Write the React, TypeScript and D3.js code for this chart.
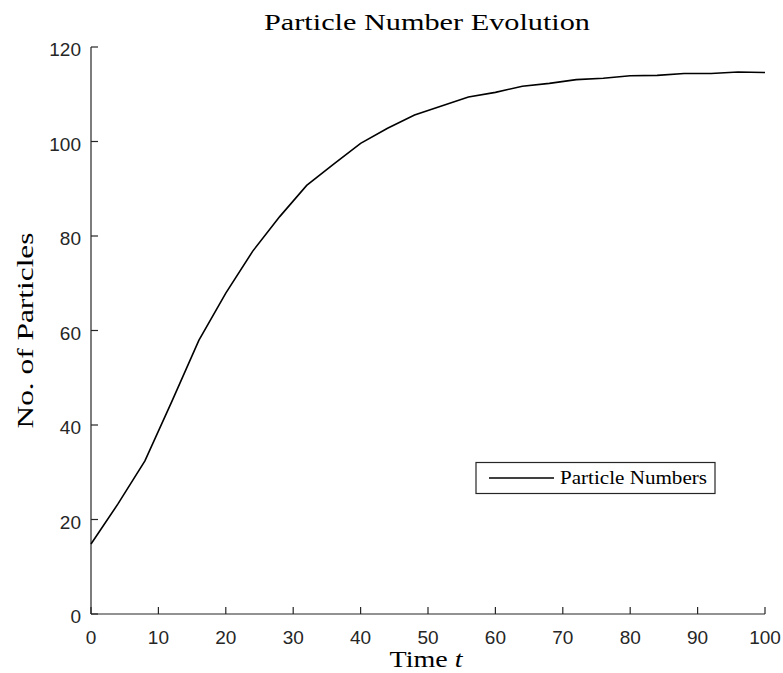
import React from "react";
import * as d3 from "d3";

const times = [0, 4, 8, 12, 16, 20, 24, 28, 32, 36, 40, 44, 48, 52, 56, 60, 64, 68, 72, 76, 80, 84, 88, 92, 96, 100];
const particles = [14.8, 23.3, 32.4, 45.0, 57.9, 67.9, 76.8, 84.1, 90.7, 95.2, 99.6, 102.8, 105.6, 107.5, 109.4, 110.4, 111.7, 112.3, 113.1, 113.4, 113.9, 114.0, 114.4, 114.4, 114.7, 114.6];
const xTicks = [0, 10, 20, 30, 40, 50, 60, 70, 80, 90, 100];
const yTicks = [0, 20, 40, 60, 80, 100, 120];
const titleText = "Particle Number Evolution";
const xLabel = "Time ";
const yLabel = "No. of Particles";
const legendLabel = "Particle Numbers";

const W = 783, H = 673;
const serif = "'Liberation Serif', 'DejaVu Serif', serif";
const sans = "'Liberation Sans', Arial, sans-serif";

export default function App() {
  const x = d3.scaleLinear().domain([0, 100]).range([91, 765]);
  const y = d3.scaleLinear().domain([0, 120]).range([614, 47]);
  const line = d3.line<number>().x((_, i) => x(times[i])).y((d) => y(d));
  const axisColor = "#262626";
  return (
    <svg width={W} height={H} style={{ position: "absolute", left: 0, top: 0, background: "#fff" }}>
      <rect width={W} height={H} fill="#fff" />
      <text x={427} y={30} textAnchor="middle" fontFamily={serif} fontSize={24} fill="#000"
        textLength={326} lengthAdjust="spacingAndGlyphs">{titleText}</text>
      {/* axes */}
      <line x1={x(0)} x2={x(100)} y1={y(0)} y2={y(0)} stroke={axisColor} strokeWidth={1.2} />
      <line x1={x(0)} x2={x(0)} y1={y(0)} y2={y(120)} stroke={axisColor} strokeWidth={1.2} />
      {xTicks.map((t) => (
        <g key={"x" + t}>
          <line x1={x(t)} x2={x(t)} y1={y(0)} y2={y(0) - 7} stroke={axisColor} strokeWidth={1.2} />
          <text x={x(t)} y={y(0) + 30} textAnchor="middle" fontFamily={sans} fontSize={19} fill={axisColor}>{t}</text>
        </g>
      ))}
      {yTicks.map((t) => (
        <g key={"y" + t}>
          <line x1={x(0)} x2={x(0) + 7} y1={y(t)} y2={y(t)} stroke={axisColor} strokeWidth={1.2} />
          <text x={x(0) - 10} y={y(t) + 9} textAnchor="end" fontFamily={sans} fontSize={19} fill={axisColor}>{t}</text>
        </g>
      ))}
      <path d={line(particles) || ""} fill="none" stroke="#000" strokeWidth={1.6} />
      <text x={426} y={667} textAnchor="middle" fontFamily={serif} fontSize={23} fill="#000"
        textLength={73} lengthAdjust="spacingAndGlyphs">
        {xLabel}<tspan fontStyle="italic">t</tspan>
      </text>
      <text transform={`translate(33,${(y(0) + y(120)) / 2}) rotate(-90)`} textAnchor="middle" fontFamily={serif} fontSize={23} fill="#000"
        textLength={196} lengthAdjust="spacingAndGlyphs">{yLabel}</text>
      {/* legend */}
      <rect x={476} y={462.5} width={239} height={31} fill="#fff" stroke={axisColor} strokeWidth={1.2} />
      <line x1={489} x2={554} y1={478} y2={478} stroke="#000" strokeWidth={1.6} />
      <text x={560} y={483.5} fontFamily={serif} fontSize={18} fill="#000"
        textLength={147} lengthAdjust="spacingAndGlyphs">{legendLabel}</text>
    </svg>
  );
}
